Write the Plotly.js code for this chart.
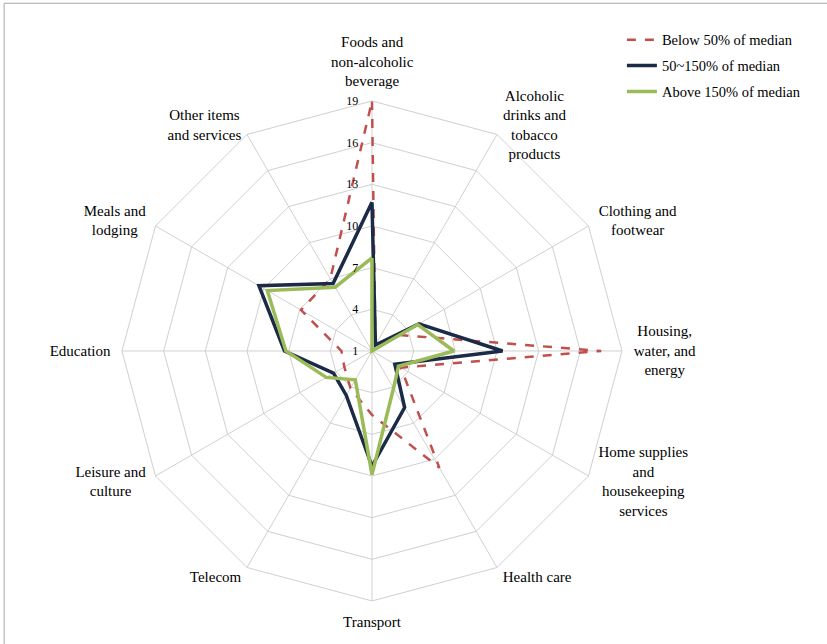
<!DOCTYPE html>
<html>
<head>
<meta charset="utf-8">
<script src="https://cdn.plot.ly/plotly-3.0.1.min.js"></script>
<style>html,body{margin:0;padding:0;background:#fff;}#chart{width:827px;height:644px;}</style>
</head>
<body>
<div id="chart"></div>
<script>
const categories = [
  "Foods and<br>non-alcoholic<br>beverage",
  "Alcoholic<br>drinks and<br>tobacco<br>products",
  "Clothing and<br>footwear",
  "Housing,<br>water, and<br>energy",
  "Home supplies<br>and<br>housekeeping<br>services",
  "Health care",
  "Transport",
  "Telecom",
  "Leisure and<br>culture",
  "Education",
  "Meals and<br>lodging",
  "Other items<br>and services"
];
const belowMedian = [19, 1.5, 3.3, 17.5, 3.4, 10.7, 5.6, 4.1, 3.3, 3.2, 6.9, 7.0];
const middleMedian = [11.7, 1.5, 4.9, 10.4, 2.9, 5.7, 9.3, 4.7, 4.2, 7.3, 10.4, 6.6];
const aboveMedian = [7.7, 1.0, 4.8, 6.9, 3.2, 4.1, 9.9, 3.4, 4.8, 7.2, 9.7, 6.3];
const seriesNames = ["Below 50% of median", "50~150% of median", "Above 150% of median"];
const radialTicks = [1, 4, 7, 10, 13, 16, 19];

const FONT = "'Liberation Serif', 'DejaVu Serif', serif";
function closeLoop(a){ return a.concat([a[0]]); }

const traces = [
  {type:'scatterpolar', mode:'lines', name:seriesNames[0], legendgroup:'a',
   r:closeLoop(belowMedian), theta:closeLoop(categories),
   line:{color:'#c0504d', width:2.5, dash:'dash'}},
  {type:'scatterpolar', mode:'lines', name:seriesNames[1], legendgroup:'b',
   r:closeLoop(middleMedian), theta:closeLoop(categories),
   line:{color:'#1b2a47', width:3.5}},
  {type:'scatterpolar', mode:'lines', name:seriesNames[2], legendgroup:'c',
   r:closeLoop(aboveMedian), theta:closeLoop(categories),
   line:{color:'#9bbb59', width:3.5}}
];

const layout = {
  width:827, height:644,
  margin:{l:0,r:0,t:0,b:0},
  paper_bgcolor:'#fff',
  font:{family:FONT, color:'#000', size:13},
  showlegend:true,
  legend:{x:0.752, y:0.963, xanchor:'left', yanchor:'top',
          font:{family:FONT, size:14.5, color:'#000'},
          bgcolor:'rgba(0,0,0,0)', traceorder:'grouped', tracegroupgap:4},
  polar:{
    domain:{x:[0.1475,0.7521], y:[0.0668,0.8432]},
    gridshape:'linear',
    bgcolor:'#fff',
    angularaxis:{
      type:'category', categoryarray:categories,
      direction:'clockwise', rotation:90,
      showline:true, linecolor:'#d0d0d0', linewidth:1,
      gridcolor:'#d0d0d0', gridwidth:1,
      ticks:'outside', ticklen:8, tickcolor:'rgba(0,0,0,0)',
      tickfont:{family:FONT, size:15, color:'#000'}
    },
    radialaxis:{
      range:[1,19], tickvals:radialTicks, ticktext:radialTicks.map(String),
      angle:90, tickangle:90, side:'counterclockwise',
      showline:false, ticks:'outside', ticklen:9, tickcolor:'rgba(0,0,0,0)',
      gridcolor:'#d0d0d0', gridwidth:1,
      tickfont:{family:FONT, size:12, color:'#000'}
    }
  },
  shapes:[{type:'rect', xref:'paper', yref:'paper', x0:0.005, y0:-0.1, x1:1.1, y1:0.995,
           line:{color:'#a6a6a6', width:1}, fillcolor:'rgba(0,0,0,0)'}]
};

Plotly.newPlot('chart', traces, layout, {displayModeBar:false, staticPlot:true}).then(function(gd){
  const sub = gd._fullLayout.polar && gd._fullLayout.polar._subplot;
  const svg = gd.querySelector('svg.main-svg');
  const svgRect = svg.getBoundingClientRect();
  const plain = categories.map(function(c){ return c.replace(/<br>/g, ''); });
  const texts = gd.querySelectorAll('.angularaxistick text, .angular-axis text, g.angularaxis text');
  const seen = new Set();
  texts.forEach(function(el){
    if (seen.has(el)) return; seen.add(el);
    // centre the lines of multi-line labels within their own box
    const lines = el.querySelectorAll('tspan.line');
    if (lines.length >= 2) {
      const bb = el.getBBox();
      const cx = bb.x + bb.width / 2;
      el.setAttribute('text-anchor', 'middle');
      lines.forEach(function(t){ t.setAttribute('x', cx); });
    }
    // side labels: centre the block vertically near the level of its spoke end
    if (!sub) return;
    const idx = plain.indexOf(el.textContent);
    if (idx < 0) return;
    const theta = (90 - 360 * idx / categories.length) * Math.PI / 180;
    const s = Math.sin(theta);
    if (Math.abs(Math.abs(s) - 1) < 1e-6) return;
    const vertexY = sub.cy - sub.radius * s;
    const target = vertexY - 11 * s;
    const r = el.getBoundingClientRect();
    const cur = (r.top + r.bottom) / 2 - svgRect.top;
    const dy = target - cur;
    el.setAttribute('transform', (el.getAttribute('transform') || '') + ' translate(0,' + dy.toFixed(1) + ')');
  });
});
</script>
</body>
</html>
